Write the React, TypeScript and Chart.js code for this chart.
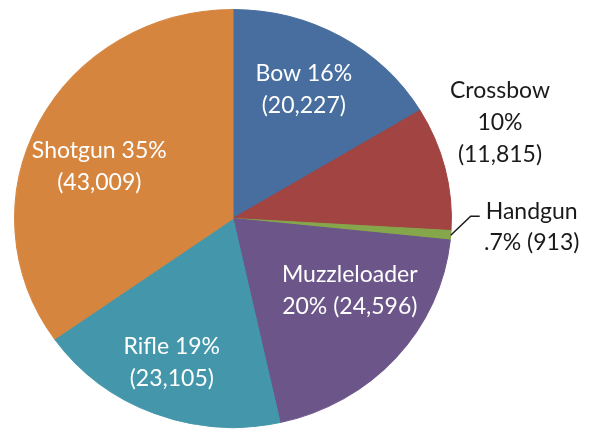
import React, { useEffect, useRef } from "react";
import { Chart, registerables } from "chart.js";

Chart.register(...registerables);

const categories = ["Bow", "Crossbow", "Handgun", "Muzzleloader", "Rifle", "Shotgun"];
const counts = [20227, 11815, 913, 24596, 23105, 43009];
const sliceColors = ["#476E9F", "#A14442", "#85A64B", "#6C5589", "#4497AB", "#D6853F"];
// how each label's text is broken into lines
const labelBreaks = ["np|v", "n|p|v", "n|pv", "n|pv", "np|v", "np|v"];
const labelColors = ["#ffffff", "#1a1a1a", "#1a1a1a", "#ffffff", "#ffffff", "#ffffff"];
// label placement: radial fraction of radius + pixel offsets
const labelPlace = [
  { f: 0.706, dx: -5, dy: 0 },
  { f: 1.25, dx: 2, dy: -33 },
  { f: 1.0, dx: 0, dy: 0 },
  { f: 0.6, dx: 19, dy: -11 },
  { f: 0.7, dx: -6, dy: 8 },
  { f: 0.7, dx: 2, dy: 15 },
];
const STRETCH_X = 1.045;
const FONT = "23px Lato";
const LINE_H = 32;

function fmtPct(v: number, total: number): string {
  const p = (v / total) * 100;
  if (p < 1) return p.toFixed(1).replace(/^0/, "") + "%";
  return Math.round(p) + "%";
}

function buildLines(i: number, total: number): string[] {
  const n = categories[i];
  const p = fmtPct(counts[i], total);
  const v = "(" + counts[i].toLocaleString("en-US") + ")";
  return labelBreaks[i].split("|").map((seg) => {
    const parts: string[] = [];
    for (const ch of seg) {
      if (ch === "n") parts.push(n);
      if (ch === "p") parts.push(p);
      if (ch === "v") parts.push(v);
    }
    return parts.join(" ");
  });
}

const stretchPlugin = {
  id: "stretch",
  beforeDatasetsDraw(chart: any) {
    const meta = chart.getDatasetMeta(0);
    const arc = meta.data[0];
    const ctx = chart.ctx;
    ctx.save();
    ctx.translate(arc.x, arc.y);
    ctx.scale(STRETCH_X, 1);
    ctx.translate(-arc.x, -arc.y);
  },
  afterDatasetsDraw(chart: any) {
    chart.ctx.restore();
  },
};

const labelPlugin = {
  id: "sliceLabels",
  afterDraw(chart: any) {
    const ctx = chart.ctx;
    const meta = chart.getDatasetMeta(0);
    const total = counts.reduce((a, b) => a + b, 0);
    ctx.save();
    ctx.font = FONT;
    ctx.textAlign = "center";
    ctx.textBaseline = "middle";
    meta.data.forEach((arc: any, i: number) => {
      const mid = (arc.startAngle + arc.endAngle) / 2;
      const pl = labelPlace[i];
      const r = arc.outerRadius * pl.f;
      const px = arc.x + STRETCH_X * r * Math.cos(mid);
      const py = arc.y + r * Math.sin(mid);
      const lines = buildLines(i, total);
      ctx.fillStyle = labelColors[i];
      if (i === 2) {
        // leader line for the small slice
        const ex = px + 20;
        const ey = py - 19;
        const endX = ex + 9;
        ctx.strokeStyle = "#1a1a1a";
        ctx.lineWidth = 1.5;
        ctx.beginPath();
        ctx.moveTo(px, py);
        ctx.lineTo(ex, ey);
        ctx.lineTo(endX, ey);
        ctx.stroke();
        const cx = endX + 52;
        lines.forEach((ln, k) => ctx.fillText(ln, cx, ey - 5 + k * 31));
        return;
      }
      const cx = px + pl.dx;
      const cy = py + pl.dy;
      const top = cy - ((lines.length - 1) * LINE_H) / 2;
      lines.forEach((ln, k) => ctx.fillText(ln, cx, top + k * LINE_H));
    });
    ctx.restore();
  },
};

export default function App() {
  const ref = useRef<HTMLCanvasElement | null>(null);
  useEffect(() => {
    document.body.style.margin = "0";
    const chart = new Chart(ref.current as HTMLCanvasElement, {
      type: "pie",
      data: {
        labels: categories,
        datasets: [
          {
            data: counts,
            backgroundColor: sliceColors,
            borderColor: sliceColors,
            borderWidth: 1,
          },
        ],
      },
      options: {
        animation: false,
        responsive: true,
        maintainAspectRatio: false,
        layout: { padding: { top: 9, bottom: 1, left: 0, right: 126 } },
        plugins: {
          legend: { display: false },
          tooltip: { enabled: false },
        },
      },
      plugins: [stretchPlugin, labelPlugin],
    });
    return () => chart.destroy();
  }, []);
  return (
    <div style={{ width: 592, height: 429, position: "relative", background: "#fff" }}>
      <canvas ref={ref} />
    </div>
  );
}
